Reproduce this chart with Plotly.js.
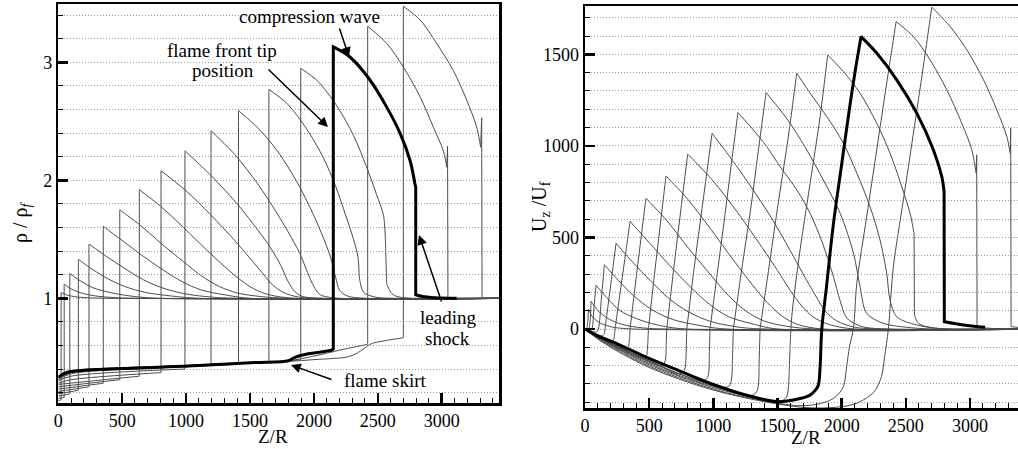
<!DOCTYPE html>
<html><head><meta charset="utf-8">
<script src="https://cdn.plot.ly/plotly-3.0.1.min.js"></script>
<style>html,body{margin:0;padding:0;background:#fff}#chart{width:1018px;height:449px}</style>
</head><body><div id="chart"></div>
<script>
// ---- Left panel: density profiles rho/rho_f vs Z/R, [Z/R, rho/rho_f] ----
const rho01 = [[0,0.13],[22,0.14],[22,1.05],[60,1.03],[120,1.015],[220,1.005],[380,1.0],[3500,1.0]];
const rho02 = [[0,0.15],[46,0.16],[46,1.12],[100,1.08],[180,1.045],[290,1.02],[450,1.005],[650,1.0],[3500,1.0]];
const rho03 = [[0,0.17],[90,0.19],[90,1.21],[170,1.15],[270,1.09],[400,1.05],[560,1.02],[780,1.0],[3500,1.0]];
const rho04 = [[0,0.19],[157,0.22],[157,1.33],[260,1.25],[380,1.17],[520,1.10],[680,1.05],[880,1.02],[1100,1.0],[3500,1.0]];
const rho05 = [[0,0.21],[240,0.25],[240,1.46],[370,1.36],[510,1.26],[660,1.16],[810,1.09],[980,1.04],[1200,1.01],[1400,1.0],[3500,1.0]];
const rho06 = [[0,0.23],[352,0.28],[352,1.61],[500,1.49],[660,1.36],[820,1.24],[970,1.14],[1120,1.07],[1300,1.03],[1500,1.0],[3500,1.0]];
const rho07 = [[0,0.25],[481,0.31],[481,1.75],[640,1.62],[810,1.46],[980,1.31],[1120,1.19],[1260,1.10],[1400,1.045],[1580,1.015],[1800,1.0],[3500,1.0]];
const rho08 = [[0,0.27],[634,0.34],[634,1.92],[800,1.78],[980,1.60],[1160,1.41],[1300,1.27],[1420,1.16],[1530,1.08],[1650,1.03],[1850,1.0],[3500,1.0]];
const rho09 = [[0,0.28],[100,0.31],[804,0.37],[804,2.08],[990,1.92],[1190,1.71],[1380,1.49],[1500,1.34],[1600,1.21],[1680,1.11],[1760,1.05],[1880,1.01],[2050,1.0],[3500,1.0]];
const rho10 = [[0,0.30],[100,0.34],[991,0.40],[991,2.25],[1195,2.04],[1408,1.79],[1560,1.58],[1660,1.43],[1740,1.28],[1790,1.16],[1840,1.07],[1900,1.02],[2050,1.0],[3500,1.0]];
const rho11 = [[0,0.31],[100,0.36],[1195,0.43],[1195,2.42],[1380,2.22],[1560,1.97],[1700,1.74],[1800,1.56],[1890,1.38],[1950,1.22],[2000,1.10],[2050,1.03],[2200,1.0],[3500,1.0]];
const rho12 = [[0,0.32],[100,0.37],[800,0.41],[1410,0.44],[1410,2.59],[1565,2.44],[1720,2.24],[1860,2.00],[1970,1.77],[2060,1.55],[2130,1.35],[2170,1.18],[2200,1.07],[2260,1.02],[2400,1.0],[3500,1.0]];
const rho13 = [[0,0.33],[100,0.375],[1000,0.43],[1648,0.46],[1648,2.77],[1790,2.65],[1940,2.44],[2070,2.20],[2170,1.95],[2250,1.70],[2310,1.50],[2345,1.35],[2360,1.15],[2390,1.05],[2480,1.01],[2600,1.0],[3500,1.0]];
const rho14 = [[0,0.33],[100,0.38],[1000,0.43],[1800,0.47],[1897,0.48],[1897,2.95],[2030,2.84],[2180,2.63],[2310,2.38],[2410,2.12],[2490,1.88],[2545,1.70],[2562,1.40],[2570,1.12],[2620,1.03],[2750,1.0],[3500,1.0]];
const rho16 = [[0,0.33],[78,0.37],[500,0.40],[1000,0.425],[1540,0.455],[1800,0.47],[2000,0.51],[2200,0.56],[2421,0.61],[2421,3.305],[2570,3.16],[2700,2.96],[2830,2.71],[2935,2.45],[3013,2.25],[3040,2.11],[3046,2.29],[3049,1.0],[3500,1.0]];
const rho17 = [[0,0.33],[78,0.37],[500,0.40],[1000,0.425],[1540,0.455],[1800,0.465],[2000,0.48],[2150,0.49],[2250,0.50],[2330,0.53],[2400,0.58],[2450,0.615],[2700,0.665],[2700,3.475],[2830,3.36],[2961,3.16],[3091,2.93],[3196,2.68],[3274,2.45],[3305,2.28],[3313,2.53],[3316,1.0],[3500,1.0]];
const rhoBold = [[0,0.333],[78,0.375],[496,0.404],[1017,0.426],[1539,0.455],[1800,0.47],[1852,0.50],[1956,0.53],[2139,0.56],[2152,0.57],[2152,3.13],[2282,3.045],[2439,2.85],[2570,2.62],[2674,2.40],[2752,2.17],[2791,1.97],[2797,1.94],[2797,1.03],[2850,1.015],[2950,1.005],[3117,1.0]];

// ---- Right panel: axial velocity profiles U_z/U_f vs Z/R, [Z/R, U_z/U_f] ----
const u01 = [[0,0],[12,0],[26,108],[60,65],[120,32],[220,10],[380,0],[3500,0]];
const u02 = [[0,0],[20,-2],[30,0],[47,151],[100,101],[180,57],[290,25],[450,6],[650,0],[3500,0]];
const u03 = [[0,0],[35,-5],[52,0],[70,120],[86,239],[170,171],[270,102],[400,57],[560,23],[780,0],[3500,0]];
const u04 = [[0,0],[60,-14],[90,-15],[104,0],[128,170],[151,351],[260,266],[380,181],[520,106],[680,53],[880,21],[1100,0],[3500,0]];
const u05 = [[0,0],[80,-26],[135,-38],[152,-22],[156,0],[200,240],[242,468],[370,366],[510,264],[660,163],[810,92],[980,41],[1200,10],[1400,0],[3500,0]];
const u06 = [[0,0],[100,-35],[205,-70],[228,-50],[234,0],[270,180],[310,380],[351,588],[500,472],[660,347],[820,231],[970,135],[1120,67],[1300,29],[1500,0],[3500,0]];
const u07 = [[0,0],[100,-37],[310,-110],[340,-95],[348,-45],[351,0],[390,230],[430,460],[475,714],[640,590],[810,438],[980,295],[1120,181],[1260,95],[1400,43],[1580,14],[1800,0],[3500,0]];
const u08 = [[0,0],[100,-38],[300,-108],[455,-160],[483,-140],[490,-70],[494,0],[540,290],[585,560],[631,836],[800,709],[980,545],[1160,373],[1300,245],[1420,145],[1530,73],[1650,27],[1850,0],[3500,0]];
const u09 = [[0,0],[100,-39],[300,-110],[590,-200],[622,-180],[632,-100],[637,0],[690,320],[745,640],[800,955],[990,815],[1190,635],[1380,445],[1500,320],[1600,210],[1690,125],[1780,65],[1900,25],[2100,0],[3500,0]];
const u10 = [[0,0],[100,-40],[300,-112],[500,-170],[740,-245],[775,-225],[788,-130],[793,0],[850,330],[920,700],[990,1069],[1150,920],[1300,770],[1450,610],[1598,430],[1700,300],[1790,190],[1870,100],[1960,45],[2100,10],[2300,0],[3500,0]];
const u11 = [[0,0],[100,-42],[300,-115],[500,-175],[750,-248],[910,-285],[955,-265],[968,-160],[974,0],[1030,300],[1090,620],[1140,900],[1192,1182],[1312,1087],[1416,996],[1520,887],[1650,760],[1754,632],[1850,470],[1930,300],[1990,150],[2040,60],[2150,15],[2350,0],[3500,0]];
const u12 = [[0,0],[100,-44],[300,-118],[500,-180],[800,-262],[1080,-320],[1130,-305],[1148,-190],[1156,0],[1220,320],[1290,650],[1350,970],[1411,1291],[1520,1197],[1598,1124],[1728,978],[1857,814],[1988,632],[2092,414],[2143,231],[2195,86],[2325,31],[2500,10],[2700,0],[3500,0]];
const u13 = [[0,0],[100,-46],[300,-122],[500,-188],[800,-270],[1100,-333],[1290,-365],[1340,-340],[1356,-200],[1364,0],[1430,320],[1500,660],[1580,1030],[1650,1397],[1754,1288],[1884,1160],[2013,1015],[2118,851],[2221,668],[2299,486],[2351,304],[2377,158],[2429,67],[2585,22],[2800,0],[3500,0]];
const u14 = [[0,0],[100,-48],[300,-126],[500,-195],[800,-275],[1100,-340],[1400,-385],[1520,-395],[1570,-372],[1590,-250],[1598,-100],[1611,67],[1676,432],[1754,796],[1832,1160],[1891,1497],[2013,1406],[2143,1288],[2273,1124],[2377,960],[2468,778],[2533,632],[2564,523],[2567,77],[2600,30],[2700,8],[2850,0],[3500,0]];
const u16 = [[0,0],[100,-52],[300,-133],[500,-203],[800,-283],[1100,-348],[1400,-392],[1650,-418],[1800,-412],[1935,-380],[2010,-320],[2040,-200],[2060,-100],[2091,0],[2118,250],[2195,614],[2273,978],[2351,1343],[2424,1679],[2559,1597],[2689,1470],[2819,1306],[2936,1124],[3014,978],[3048,851],[3052,951],[3055,10],[3200,2],[3500,0]];
const u17 = [[0,0],[100,-55],[300,-140],[500,-210],[800,-290],[1100,-352],[1400,-397],[1700,-428],[1900,-430],[2100,-410],[2250,-345],[2310,-260],[2335,-150],[2364,0],[2403,340],[2481,705],[2559,1069],[2636,1433],[2702,1758],[2845,1652],[2975,1525],[3105,1361],[3209,1197],[3287,1051],[3313,960],[3317,1097],[3320,13],[3500,0]];
const uBold = [[0,0],[100,-38],[221,-72],[481,-155],[740,-230],[1000,-303],[1260,-362],[1494,-397],[1624,-388],[1754,-361],[1800,-330],[1819,-306],[1832,-206],[1845,0],[1880,220],[1935,570],[2000,900],[2060,1200],[2110,1430],[2151,1597],[2273,1507],[2429,1361],[2585,1179],[2715,978],[2780,832],[2798,750],[2800,40],[2949,22],[3118,9]];

const rhoThin = [rho01,rho02,rho03,rho04,rho05,rho06,rho07,rho08,rho09,rho10,rho11,rho12,rho13,rho14,rho16,rho17];
const uThin = [u01,u02,u03,u04,u05,u06,u07,u08,u09,u10,u11,u12,u13,u14,u16,u17];

const FONT = 'Liberation Serif, Times New Roman, serif';
const GRAY = '#4a4a4a';

// Repeat the end points of near-vertical jumps and the local peaks so the spline keeps those corners sharp.
function withCorners(arr){
  const out = [];
  for (let i = 0; i < arr.length; i++){
    const p = arr[i];
    const hasPrev = i > 0, hasNext = i < arr.length - 1;
    const nearPrev = hasPrev && Math.abs(p[0] - arr[i-1][0]) <= 9;
    const nearNext = hasNext && Math.abs(arr[i+1][0] - p[0]) <= 9;
    const peak = hasPrev && hasNext && p[1] > arr[i-1][1] && p[1] > arr[i+1][1];
    out.push(p);
    if (nearPrev || nearNext || peak) out.push(p);
  }
  return out;
}
function tr(arr, xa, ya, bold){
  const pts = withCorners(arr);
  return {x: pts.map(p=>p[0]), y: pts.map(p=>p[1]), xaxis: xa, yaxis: ya,
    type:'scatter', mode:'lines', hoverinfo:'skip',
    line:{color: bold ? '#000' : GRAY, width: bold ? 3 : 1, shape:'spline', smoothing:0.9, simplify:false}};
}
const traces = [];
rhoThin.forEach(a => traces.push(tr(a,'x','y',false)));
traces.push(tr(rhoBold,'x','y',true));
uThin.forEach(a => traces.push(tr(a,'x2','y2',false)));
traces.push(tr(uBold,'x2','y2',true));

const W = 1018, H = 449;
const px = v => v / W, py = v => 1 - v / H;
const GRID = '#9a9a9a', GDASH = '1px,2px';

function xAx(extra){
  return Object.assign({
    showline:true, linecolor:'#000', linewidth:2.5, mirror:true,
    ticks:'inside', ticklen:10, tickwidth:2.5, tickcolor:'#000',
    tick0:0, dtick:500, showgrid:false, zeroline:false,
    tickfont:{family:FONT, size:18, color:'#000'},
    minor:{ticks:'inside', ticklen:5, tickwidth:1, tickcolor:'#000', dtick:100, showgrid:false}
  }, extra);
}
function yAx(extra, minorStep){
  return Object.assign({
    showline:true, linecolor:'#000', linewidth:2.5,
    ticks:'inside', ticklen:10, tickwidth:2.5, tickcolor:'#000',
    showgrid:true, gridcolor:GRID, griddash:GDASH, gridwidth:1, zeroline:false,
    tickfont:{family:FONT, size:18, color:'#000'},
    minor:{ticks:'inside', ticklen:5, tickwidth:1, tickcolor:'#000', dtick:minorStep,
           showgrid:true, gridcolor:GRID, griddash:GDASH, gridwidth:1}
  }, extra);
}

function txt(t, x, y, size, angle){
  return {xref:'paper', yref:'paper', x:px(x), y:py(y), text:t, showarrow:false,
    xanchor:'center', yanchor:'middle', textangle: angle||0,
    font:{family:FONT, size:size, color:'#000'}};
}
function arrow(hx, hy, tx, ty){
  return {xref:'paper', yref:'paper', x:px(hx), y:py(hy), ax:tx-hx, ay:ty-hy,
    axref:'pixel', ayref:'pixel', text:'', showarrow:true,
    arrowhead:2, arrowsize:1.3, arrowwidth:1.5, arrowcolor:'#000'};
}

const layout = {
  width:W, height:H, margin:{l:0,r:0,t:0,b:0},
  paper_bgcolor:'#fff', plot_bgcolor:'#fff', showlegend:false,
  font:{family:FONT, size:18, color:'#000'},
  xaxis: xAx({domain:[px(58.3), px(499.3)], range:[0,3451], anchor:'y'}),
  yaxis: yAx({domain:[py(403.3), py(4)], range:[0.110,3.494], tick0:0, dtick:1, anchor:'x', mirror:true}, 0.2),
  xaxis2: xAx({domain:[px(585), 1], range:[0,3374], anchor:'y2'}),
  yaxis2: yAx({domain:[py(408.3), py(6)], range:[-433,1764], tick0:0, dtick:500, anchor:'x2', mirror:false}, 100),
  annotations:[
    txt('compression wave', 309, 16, 19),
    txt('flame front tip', 222, 50, 19),
    txt('position', 223, 71, 19),
    txt('leading', 448, 317, 19),
    txt('shock', 447, 338, 19),
    txt('flame skirt', 385, 380, 19),
    arrow(349, 57, 339, 27),
    arrow(328, 127, 267, 68),
    arrow(419, 235, 442, 303),
    arrow(291, 365, 333, 380),
    txt('Z/R', 273, 436, 19),
    txt('Z/R', 806, 437, 19),
    txt('ρ / ρ<sub><i>f</i></sub>', 21, 222, 20, -90),
    txt('U<sub>z</sub> /U<sub>f</sub>', 540, 207, 20, -90)
  ]
};

Plotly.newPlot('chart', traces, layout, {staticPlot:true, displayModeBar:false});
</script></body></html>
